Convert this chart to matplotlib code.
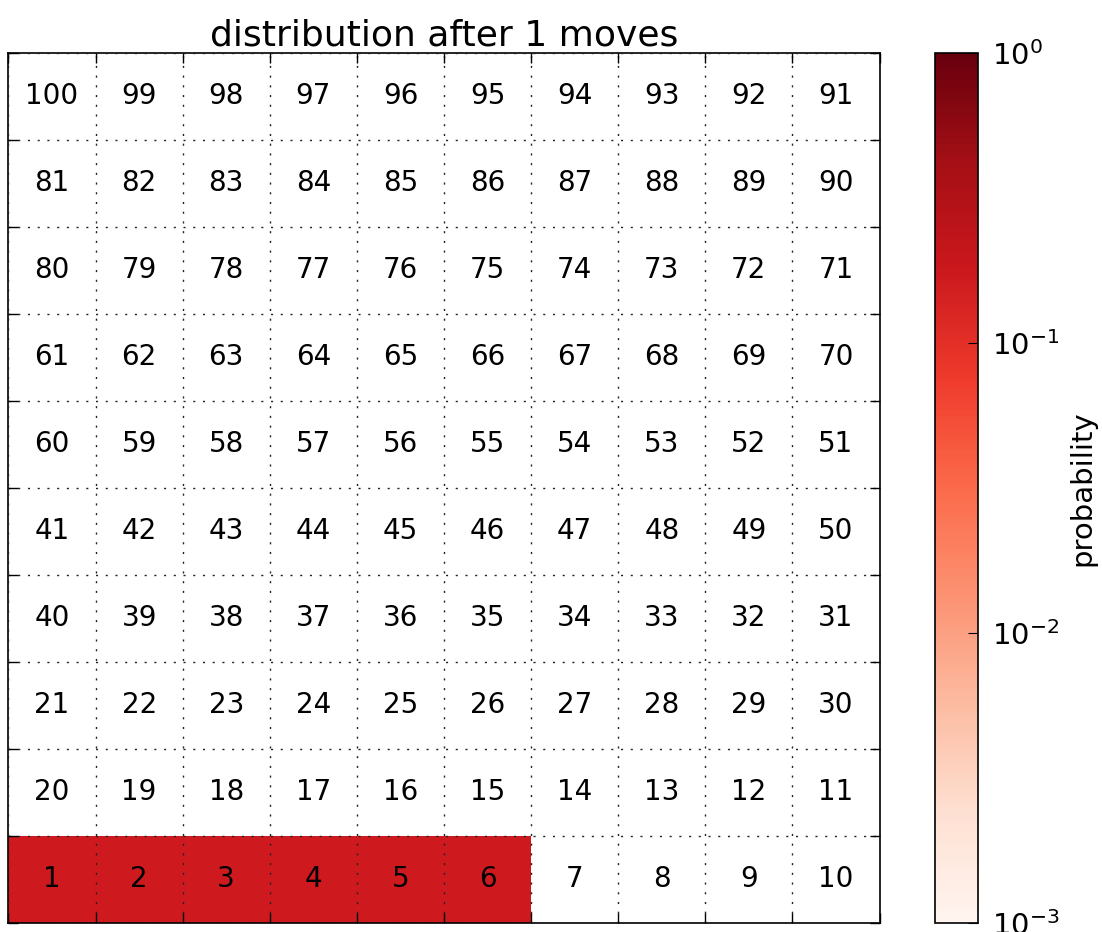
import numpy as np
import matplotlib
matplotlib.use("Agg")
import matplotlib.pyplot as plt
from matplotlib.colors import LogNorm

# Board layout (top row first), as printed in the chart
board_rows = [
    [100, 99, 98, 97, 96, 95, 94, 93, 92, 91],
    [81, 82, 83, 84, 85, 86, 87, 88, 89, 90],
    [80, 79, 78, 77, 76, 75, 74, 73, 72, 71],
    [61, 62, 63, 64, 65, 66, 67, 68, 69, 70],
    [60, 59, 58, 57, 56, 55, 54, 53, 52, 51],
    [41, 42, 43, 44, 45, 46, 47, 48, 49, 50],
    [40, 39, 38, 37, 36, 35, 34, 33, 32, 31],
    [21, 22, 23, 24, 25, 26, 27, 28, 29, 30],
    [20, 19, 18, 17, 16, 15, 14, 13, 12, 11],
    [1, 2, 3, 4, 5, 6, 7, 8, 9, 10],
]
# Probability of being on each square after 1 move
prob_squares = [1, 2, 3, 4, 5, 6]
prob_values = [1/6, 1/6, 1/6, 1/6, 1/6, 1/6]

title = "distribution after 1 moves"
cbar_label = "probability"
vmin, vmax = 1e-3, 1.0

board = np.array(board_rows)
lookup = dict(zip(prob_squares, prob_values))
grid = np.array([[lookup.get(int(s), 0.0) for s in row] for row in board_rows])
masked = np.ma.masked_less_equal(grid, 0)

fig = plt.figure(figsize=(11.02, 9.32), dpi=100)
ax = fig.add_axes([0.0077, 0.0100, 0.7904, 0.9335])
cax = fig.add_axes([0.8485, 0.0100, 0.0390, 0.9335])

nrows, ncols = board.shape
mesh = ax.pcolormesh(np.arange(ncols + 1), np.arange(nrows + 1),
                     masked[::-1], cmap="Reds", norm=LogNorm(vmin=vmin, vmax=vmax))
for r in range(nrows):
    for c in range(ncols):
        ax.text(c + 0.5, nrows - r - 0.5, str(board[r, c]),
                ha="center", va="center", fontsize=20, color="black")

ax.set_xlim(0, ncols)
ax.set_ylim(0, nrows)
ax.set_xticks(np.arange(ncols + 1))
ax.set_yticks(np.arange(nrows + 1))
ax.set_xticklabels([])
ax.set_yticklabels([])
ax.tick_params(direction="in", length=7, width=1, top=True, right=True, color="black")
ax.grid(True, color="#222222", linestyle=(0, (1.5, 5.5)), linewidth=1)
ax.set_axisbelow(False)
for sp in ax.spines.values():
    sp.set_linewidth(1.2)
ax.set_title(title, fontsize=26, pad=5)

cb = fig.colorbar(mesh, cax=cax)
cb.ax.tick_params(labelsize=21, direction="in", length=7, pad=10, which="major")
cb.ax.tick_params(which="minor", length=0)
cb.outline.set_linewidth(1.2)
fig.text(1082 / 1102, 0.5 * (0.0100 + 0.9435), cbar_label, rotation=90,
         ha="center", va="center", fontsize=21)

fig.savefig("out.png", dpi=100)
